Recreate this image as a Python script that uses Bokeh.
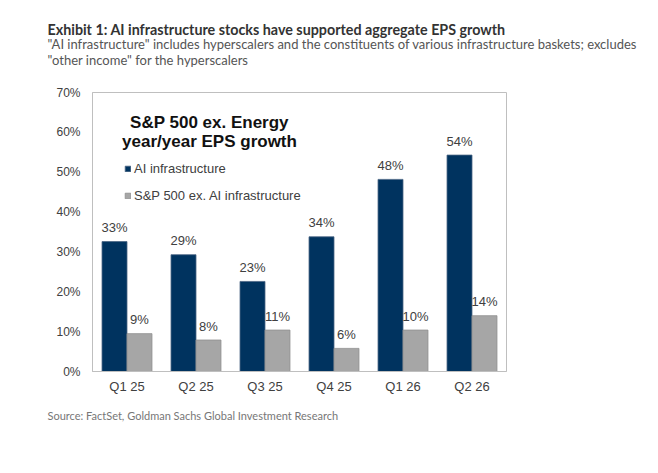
from bokeh.plotting import figure
from bokeh.models import (ColumnDataSource, FactorRange, Label, LabelSet, Legend,
                          LegendItem, FixedTicker, CustomJSTickFormatter, Title)
from bokeh.transform import dodge
from bokeh.core.properties import value
from bokeh.embed import file_html
from bokeh.resources import INLINE

quarters = ["Q1 25", "Q2 25", "Q3 25", "Q4 25", "Q1 26", "Q2 26"]
ai_infra = [32.6, 29.3, 22.6, 33.8, 48.2, 54.3]
ai_labels = ["33%", "29%", "23%", "34%", "48%", "54%"]
sp_ex_ai = [9.5, 7.9, 10.4, 5.8, 10.4, 14.0]
sp_labels = ["9%", "8%", "11%", "6%", "10%", "14%"]
y_ticks = [0, 10, 20, 30, 40, 50, 60, 70]

title_txt = "Exhibit 1: AI infrastructure stocks have supported aggregate EPS growth"
sub_txt = ("\"AI infrastructure\" includes hyperscalers and the constituents of various infrastructure baskets; excludes\n"
           "\"other income\" for the hyperscalers")
source_txt = "Source: FactSet, Goldman Sachs Global Investment Research"
inner1 = "S&P 500 ex. Energy"
inner2 = "year/year EPS growth"

NAVY = "#00335F"
GRAY = "#A6A6A6"
TXT = "#404040"
CHART_FONT = "Liberation Sans"
HEAD_FONT = "Lato"

src = ColumnDataSource(dict(cat=quarters, ai=ai_infra, ail=ai_labels, sp=sp_ex_ai, spl=sp_labels))

p = figure(x_range=FactorRange(factors=quarters), y_range=(0, 70),
           width=640, height=440,
           min_border_left=92, min_border_right=134, min_border_top=92, min_border_bottom=69,
           output_backend="svg", toolbar_location=None)

r1 = p.vbar(x=dodge("cat", -0.181, range=p.x_range), top="ai", width=0.362, source=src,
            fill_color=NAVY, line_color="#4A6584", line_width=0.8)
r2 = p.vbar(x=dodge("cat", 0.181, range=p.x_range), top="sp", width=0.362, source=src,
            fill_color=GRAY, line_color="#8F8F8F", line_width=0.8)

for col, labcol, off in (("ai", "ail", -0.181), ("sp", "spl", 0.181)):
    p.add_layout(LabelSet(x=dodge("cat", off, range=p.x_range), y=col, text=labcol, source=src,
                          y_offset=14, text_align="center", text_baseline="middle",
                          text_font=value(CHART_FONT), text_font_size="13px", text_color=TXT))

p.xgrid.grid_line_color = None
p.ygrid.grid_line_color = None
p.outline_line_color = "#BFBFBF"
p.outline_line_width = 1

p.yaxis.ticker = FixedTicker(ticks=y_ticks)
p.yaxis.formatter = CustomJSTickFormatter(code="return tick + '%';")

for ax in (p.xaxis[0], p.yaxis[0]):
    ax.axis_line_color = "#BFBFBF"
    ax.major_tick_line_color = None
    ax.minor_tick_line_color = None
    ax.major_tick_out = 0
    ax.major_tick_in = 0
    ax.minor_tick_out = 0
    ax.minor_tick_in = 0
    ax.major_label_text_font = CHART_FONT
    ax.major_label_text_color = TXT
p.yaxis.major_label_text_font_size = "12px"
p.yaxis.major_label_standoff = 12
p.xaxis.major_label_text_font_size = "13px"
p.xaxis.major_label_standoff = 7

legend = Legend(items=[LegendItem(label="AI infrastructure", renderers=[r1]),
                       LegendItem(label="S&P 500 ex. AI infrastructure", renderers=[r2])],
                location=(32, 168), glyph_width=7, glyph_height=7, label_standoff=3,
                label_height=14, spacing=12, padding=0, margin=0,
                border_line_color=None, background_fill_alpha=0,
                label_text_font=CHART_FONT, label_text_font_size="13px", label_text_color=TXT)
p.add_layout(legend)

for txt, y in ((inner1, 249), (inner2, 230)):
    p.add_layout(Label(x=117, y=y, x_units="screen", y_units="screen", text=txt,
                       text_font=CHART_FONT, text_font_size="17px", text_color="#111111",
                       text_font_style="bold", text_align="center", text_baseline="middle"))

# spacer between frame and subtitle
p.add_layout(Title(text=" ", align="left", standoff=10, text_font_size="10px"), "above")
p.add_layout(Title(text=sub_txt, align="left", offset=-45, vertical_align="top", standoff=0,
                   text_font=HEAD_FONT, text_font_size="13px", text_font_style="normal",
                   text_color="#555555", text_line_height=1.03), "above")
p.add_layout(Title(text=title_txt, align="left", offset=-45, vertical_align="bottom", standoff=-4,
                   text_font=HEAD_FONT, text_font_size="14.3px", text_font_style="bold",
                   text_color="#333333"), "above")
p.add_layout(Title(text=source_txt, align="left", offset=-45, vertical_align="top", standoff=24,
                   text_font=HEAD_FONT, text_font_size="11px", text_font_style="normal",
                   text_color="#777777"), "below")

open("out.html", "w").write(file_html(p, INLINE))
